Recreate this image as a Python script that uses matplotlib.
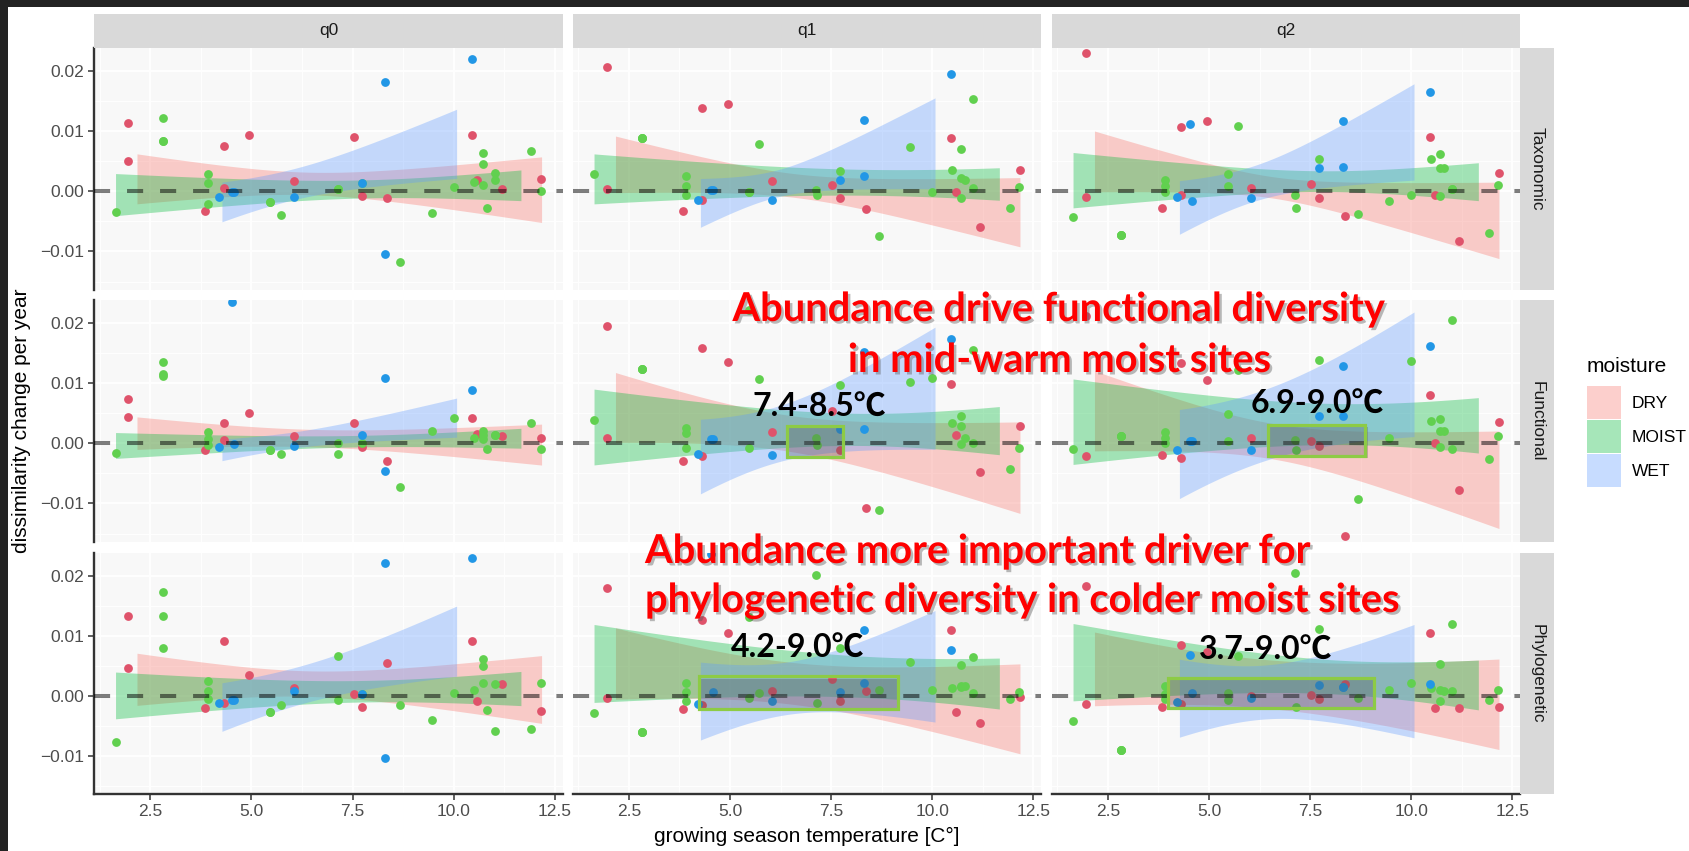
import numpy as np
import matplotlib
matplotlib.use("Agg")
import matplotlib.pyplot as plt
import matplotlib.patheffects as pe
from matplotlib.patches import Rectangle

plt.rcParams['font.family'] = ['Liberation Sans', 'DejaVu Sans']

# sites: growing season temperature and moisture class (D/M/W)
site_temp = [1.64, 1.96, 1.96, 2.82, 2.82, 2.82, 3.84, 3.92, 3.92, 3.92,
             4.20, 4.32, 4.32, 4.52, 4.58, 4.94, 5.47, 5.47, 5.73, 6.05,
             6.05, 7.13, 7.15, 7.53, 7.72, 7.72, 7.72, 8.31, 8.31, 8.36,
             8.68, 9.45, 10.00, 10.46, 10.46, 10.49, 10.58, 10.72, 10.72, 10.72,
             10.81, 11.02, 11.02, 11.18, 11.92, 12.15, 12.16]
site_moist = "MDDMMMDMMM" "WDDWWDMMMD" "WMMDWDMWWD" "MMMWDMDMMM" "MMMDMMD"

# dissimilarity change per year, one value per site
tax_q0 = [-0.0035, 0.0114, 0.0050, 0.0121, 0.0083, 0.0083, -0.0032, 0.0029, 0.0014, -0.0021,
          -0.0009, 0.0076, 0.0006, -0.0002, -0.0002, 0.0093, -0.0018, -0.0018, -0.0039, 0.0017,
          -0.0009, 0.0004, 0.0004, 0.0090, 0.0014, -0.0008, 0.0013, 0.0182, -0.0104, -0.0012,
          -0.0117, -0.0036, 0.0007, 0.0219, 0.0094, 0.0015, 0.0019, 0.0064, 0.0045, 0.0010,
          -0.0027, 0.0031, 0.0019, 0.0003, 0.0067, 0.0000, 0.0020]
fun_q0 = [-0.0016, 0.0074, 0.0043, 0.0135, 0.0115, 0.0111, -0.0011, 0.0019, 0.0007, -0.0003,
          -0.0006, 0.0033, 0.0006, 0.0234, -0.0002, 0.0050, -0.0011, -0.0011, -0.0017, 0.0012,
          -0.0004, 0.0000, -0.0017, 0.0033, 0.0013, -0.0006, 0.0001, 0.0108, -0.0046, -0.0029,
          -0.0072, 0.0021, 0.0042, 0.0088, 0.0042, 0.0008, 0.0016, 0.0021, 0.0007, 0.0013,
          -0.0010, 0.0013, 0.0013, 0.0012, 0.0033, -0.0010, 0.0009]
phy_q0 = [-0.0078, 0.0133, 0.0047, 0.0173, 0.0133, 0.0079, -0.0021, 0.0024, 0.0008, -0.0006,
          -0.0012, 0.0092, -0.0012, -0.0008, -0.0008, 0.0034, -0.0027, -0.0027, -0.0015, 0.0013,
          0.0007, 0.0066, -0.0007, 0.0003, 0.0003, -0.0019, 0.0002, 0.0222, -0.0104, 0.0055,
          -0.0016, -0.0041, 0.0005, 0.0230, 0.0092, 0.0010, -0.0009, 0.0062, 0.0049, 0.0021,
          -0.0024, 0.0020, -0.0059, 0.0020, -0.0056, 0.0021, -0.0026]
tax_q1 = [0.0028, 0.0207, 0.0003, 0.0089, 0.0089, 0.0089, -0.0032, 0.0025, 0.0009, -0.0006,
          -0.0014, 0.0138, -0.0014, 0.0002, 0.0002, 0.0145, -0.0002, -0.0002, 0.0078, 0.0017,
          -0.0015, 0.0002, -0.0007, 0.0010, 0.0019, -0.0011, 0.0033, 0.0118, 0.0026, -0.0030,
          -0.0074, 0.0074, -0.0002, 0.0194, 0.0088, 0.0035, -0.0001, 0.0070, 0.0022, -0.0011,
          0.0018, 0.0154, 0.0006, -0.0059, -0.0027, 0.0007, 0.0035]
fun_q1 = [0.0039, 0.0195, 0.0008, 0.0124, 0.0124, 0.0124, -0.0029, 0.0025, 0.0017, -0.0008,
          -0.0017, 0.0158, -0.0021, 0.0007, 0.0007, 0.0135, -0.0008, 0.0221, 0.0106, 0.0018,
          -0.0020, 0.0008, -0.0003, 0.0053, 0.0023, -0.0012, 0.0096, 0.0151, 0.0023, -0.0108,
          -0.0111, 0.0102, 0.0108, 0.0173, 0.0098, 0.0034, 0.0014, 0.0046, 0.0028, -0.0002,
          0.0008, 0.0155, 0.0000, -0.0048, -0.0042, -0.0008, 0.0028]
phy_q1 = [-0.0029, 0.0179, -0.0004, -0.0060, -0.0060, -0.0060, -0.0022, 0.0021, 0.0006, -0.0009,
          -0.0014, 0.0126, -0.0015, 0.0237, 0.0006, 0.0104, -0.0004, 0.0132, 0.0004, 0.0007,
          -0.0009, 0.0201, -0.0013, 0.0028, 0.0006, -0.0009, 0.0079, 0.0110, 0.0021, 0.0008,
          0.0009, 0.0057, 0.0009, 0.0077, 0.0109, 0.0013, -0.0027, 0.0052, 0.0016, 0.0014,
          0.0016, 0.0065, 0.0004, -0.0046, -0.0006, 0.0006, -0.0002]
tax_q2 = [-0.0043, 0.0229, -0.0010, -0.0073, -0.0073, -0.0073, -0.0028, 0.0018, 0.0008, -0.0002,
          -0.0010, 0.0106, -0.0006, 0.0112, -0.0016, 0.0116, 0.0029, 0.0008, 0.0109, 0.0006,
          -0.0012, -0.0007, -0.0027, 0.0012, 0.0039, -0.0012, 0.0053, 0.0116, 0.0041, -0.0041,
          -0.0038, -0.0016, -0.0006, 0.0165, 0.0090, 0.0053, -0.0007, 0.0062, 0.0038, -0.0008,
          0.0038, 0.0004, 0.0004, -0.0083, -0.0069, 0.0010, 0.0030]
fun_q2 = [-0.0009, 0.0212, -0.0021, 0.0012, 0.0012, 0.0012, -0.0020, 0.0018, 0.0009, 0.0001,
          -0.0012, 0.0133, -0.0025, 0.0003, 0.0003, 0.0105, 0.0049, 0.0003, 0.0122, 0.0008,
          -0.0012, 0.0006, -0.0011, 0.0003, 0.0045, -0.0005, 0.0138, 0.0129, 0.0045, -0.0154,
          -0.0092, 0.0008, 0.0136, 0.0161, 0.0080, 0.0037, 0.0000, 0.0040, 0.0020, -0.0007,
          0.0020, 0.0204, -0.0009, -0.0078, -0.0026, 0.0012, 0.0036]
phy_q2 = [-0.0043, 0.0183, -0.0014, -0.0090, -0.0090, -0.0090, -0.0019, 0.0016, 0.0002, -0.0005,
          -0.0011, 0.0084, -0.0014, 0.0068, 0.0004, 0.0073, 0.0004, -0.0008, 0.0067, -0.0001,
          -0.0004, 0.0204, -0.0019, 0.0001, 0.0017, -0.0005, 0.0112, 0.0014, 0.0014, 0.0019,
          -0.0004, 0.0010, 0.0021, 0.0019, 0.0104, 0.0012, -0.0020, 0.0053, -0.0009, 0.0009,
          0.0007, 0.0119, 0.0007, -0.0020, -0.0007, 0.0010, -0.0019]

# confidence bands: x extent per moisture class, then
# [lo, hi] at start, middle and end for DRY, MOIST, WET
band_x = {"DRY": (2.17, 12.17), "MOIST": (1.64, 11.66), "WET": (4.27, 10.07)}
tax_q0_bands = [[-0.0022, 0.0061, -0.0006, 0.0034, -0.0053, 0.0056],
                [-0.0041, 0.0029, -0.0013, 0.0019, -0.0016, 0.0035],
                [-0.0052, 0.0014, 0.0003, 0.0063, 0.0020, 0.0135]]
fun_q0_bands = [[-0.0011, 0.0043, -0.0006, 0.0024, -0.0037, 0.0031],
                [-0.0025, 0.0018, -0.0008, 0.0012, -0.0008, 0.0025],
                [-0.0029, 0.0007, 0.0000, 0.0032, 0.0010, 0.0075]]
phy_q0_bands = [[-0.0017, 0.0070, -0.0002, 0.0043, -0.0047, 0.0066],
                [-0.0039, 0.0039, -0.0012, 0.0026, -0.0017, 0.0040],
                [-0.0060, 0.0021, 0.0003, 0.0071, 0.0032, 0.0149]]
tax_q1_bands = [[-0.0003, 0.0091, -0.0014, 0.0027, -0.0093, 0.0022],
                [-0.0020, 0.0063, -0.0009, 0.0038, -0.0014, 0.0040],
                [-0.0059, 0.0022, -0.0001, 0.0058, 0.0005, 0.0156]]
fun_q1_bands = [[0.0000, 0.0116, -0.0019, 0.0044, -0.0118, 0.0034],
                [-0.0033, 0.0093, -0.0012, 0.0048, -0.0016, 0.0064],
                [-0.0082, 0.0042, -0.0022, 0.0083, -0.0008, 0.0195]]
phy_q1_bands = [[-0.0007, 0.0112, -0.0018, 0.0054, -0.0098, 0.0052],
                [-0.0011, 0.0119, -0.0001, 0.0074, -0.0022, 0.0063],
                [-0.0073, 0.0057, -0.0029, 0.0065, -0.0043, 0.0143]]
tax_q2_bands = [[-0.0003, 0.0098, -0.0014, 0.0024, -0.0114, 0.0013],
                [-0.0027, 0.0065, -0.0003, 0.0035, -0.0015, 0.0048],
                [-0.0070, 0.0019, -0.0003, 0.0069, 0.0020, 0.0180]]
fun_q2_bands = [[-0.0013, 0.0120, -0.0033, 0.0028, -0.0142, 0.0020],
                [-0.0035, 0.0107, -0.0005, 0.0070, -0.0016, 0.0076],
                [-0.0091, 0.0057, -0.0016, 0.0109, 0.0012, 0.0219]]
phy_q2_bands = [[-0.0017, 0.0106, -0.0026, 0.0057, -0.0090, 0.0061],
                [-0.0007, 0.0122, 0.0002, 0.0065, -0.0022, 0.0061],
                [-0.0070, 0.0060, -0.0037, 0.0060, -0.0071, 0.0118]]

# highlighted temperature windows (x0, x1, y0, y1) and their labels
highlight_boxes = {("Functional", "q1"): (6.41, 7.80, -0.0022, 0.0029),
                   ("Functional", "q2"): (6.47, 8.87, -0.0021, 0.0030),
                   ("Phylogenetic", "q1"): (4.24, 9.15, -0.0022, 0.0032),
                   ("Phylogenetic", "q2"): (3.98, 9.07, -0.0021, 0.0029)}
range_labels = ["7.4-8.5℃", "6.9-9.0℃", "4.2-9.0℃", "3.7-9.0℃"]

metrics = ["Taxonomic", "Functional", "Phylogenetic"]
orders = ["q0", "q1", "q2"]
levels = ["DRY", "MOIST", "WET"]
code_level = {"D": "DRY", "M": "MOIST", "W": "WET"}

values = {("Taxonomic", "q0"): tax_q0, ("Taxonomic", "q1"): tax_q1, ("Taxonomic", "q2"): tax_q2,
          ("Functional", "q0"): fun_q0, ("Functional", "q1"): fun_q1, ("Functional", "q2"): fun_q2,
          ("Phylogenetic", "q0"): phy_q0, ("Phylogenetic", "q1"): phy_q1, ("Phylogenetic", "q2"): phy_q2}
bands = {("Taxonomic", "q0"): tax_q0_bands, ("Taxonomic", "q1"): tax_q1_bands,
         ("Taxonomic", "q2"): tax_q2_bands, ("Functional", "q0"): fun_q0_bands,
         ("Functional", "q1"): fun_q1_bands, ("Functional", "q2"): fun_q2_bands,
         ("Phylogenetic", "q0"): phy_q0_bands, ("Phylogenetic", "q1"): phy_q1_bands,
         ("Phylogenetic", "q2"): phy_q2_bands}

point_colors = {"DRY": "#DF536B", "MOIST": "#61D04F", "WET": "#2297E6"}
fill_colors = {"DRY": "#F8766D", "MOIST": "#00BA38", "WET": "#619CFF"}

W, H = 1690, 851
fig = plt.figure(figsize=(W / 100, H / 100), dpi=100)

col_x = [(94.5, 562.6), (573, 1041), (1052, 1520)]
row_y = [(48, 290), (300, 542), (553, 794)]


def fig_rect(x0, y0, x1, y1):
    return [x0 / W, 1 - y1 / H, (x1 - x0) / W, (y1 - y0) / H]


def draw_band(ax, xr, reading, color):
    xs = [xr[0], (xr[0] + xr[1]) / 2, xr[1]]
    lo = np.array(reading[0::2])
    hi = np.array(reading[1::2])
    centre = np.polyfit(xs, (lo + hi) / 2, 1)
    half2 = np.polyfit(xs, ((hi - lo) / 2) ** 2, 2)
    xx = np.linspace(xr[0], xr[1], 100)
    cc = np.polyval(centre, xx)
    hh = np.sqrt(np.clip(np.polyval(half2, xx), 0, None))
    ax.fill_between(xx, cc - hh, cc + hh, color=color, alpha=0.35, lw=0, zorder=1)


temp = np.array(site_temp)
groups = np.array([code_level[c] for c in site_moist])

for r, metric in enumerate(metrics):
    for c, q in enumerate(orders):
        ax = fig.add_axes(fig_rect(col_x[c][0], row_y[r][0], col_x[c][1], row_y[r][1]))
        ax.set_facecolor('#F8F8F8')
        ax.set_xlim(1.12, 12.69)
        ax.set_ylim(-0.0164, 0.0238)
        ax.set_xticks([2.5, 5.0, 7.5, 10.0, 12.5])
        ax.set_xticklabels(["2.5", "5.0", "7.5", "10.0", "12.5"])
        ax.set_xticks([1.25, 3.75, 6.25, 8.75, 11.25], minor=True)
        ax.set_yticks([-0.01, 0.0, 0.01, 0.02])
        ax.set_yticklabels(["\u22120.01", "0.00", "0.01", "0.02"])
        ax.set_yticks([-0.015, -0.005, 0.005, 0.015], minor=True)
        ax.grid(which='major', color='white', lw=1.3)
        ax.grid(which='minor', color='white', lw=0.7)
        ax.set_axisbelow(True)
        for s in ax.spines.values():
            s.set_visible(False)
        ax.tick_params(which='minor', length=0)
        ax.tick_params(which='major', colors='#333333', labelcolor='#4D4D4D',
                       labelsize=12.5, length=4, width=1.1)
        if c == 0:
            ax.spines['left'].set_visible(True)
            ax.spines['left'].set_color('#333333')
            ax.spines['left'].set_linewidth(1.7)
        else:
            ax.tick_params(axis='y', left=False, labelleft=False)
        if r == 2:
            ax.spines['bottom'].set_visible(True)
            ax.spines['bottom'].set_color('#333333')
            ax.spines['bottom'].set_linewidth(1.7)
        else:
            ax.tick_params(axis='x', bottom=False, labelbottom=False)

        vals = np.array(values[(metric, q)])
        for i, lev in enumerate(levels):
            draw_band(ax, band_x[lev], bands[(metric, q)][i], fill_colors[lev])
        for lev in levels:
            m = groups == lev
            ax.scatter(temp[m], vals[m], s=40, color=point_colors[lev], lw=0, zorder=2)
        ax.axhline(0, color='black', alpha=0.5, lw=2.9, ls=(0, (4, 4.2)), zorder=3)

        if (metric, q) in highlight_boxes:
            x0, x1, y0, y1 = highlight_boxes[(metric, q)]
            ax.add_patch(Rectangle((x0, y0), x1 - x0, y1 - y0, fill=False,
                                   edgecolor='#8DCB45', lw=2.3, zorder=4,
                                   path_effects=[pe.withSimplePatchShadow(offset=(1.5, -1.5), alpha=0.3)]))

# facet strips
for c, q in enumerate(orders):
    sax = fig.add_axes(fig_rect(col_x[c][0], 14, col_x[c][1], 48))
    sax.set_facecolor('#D9D9D9')
    sax.set_xticks([]); sax.set_yticks([])
    for s in sax.spines.values():
        s.set_visible(False)
    sax.text(0.5, 0.5, q, ha='center', va='center', fontsize=12.5, color='#1A1A1A',
             transform=sax.transAxes)
for r, metric in enumerate(metrics):
    sax = fig.add_axes(fig_rect(1520, row_y[r][0], 1554, row_y[r][1]))
    sax.set_facecolor('#D9D9D9')
    sax.set_xticks([]); sax.set_yticks([])
    for s in sax.spines.values():
        s.set_visible(False)
    sax.text(0.5, 0.5, metric, ha='center', va='center', fontsize=12.5, color='#1A1A1A',
             rotation=-90, transform=sax.transAxes)

# axis titles
fig.text(807 / W, 1 - 836 / H, 'growing season temperature [C°]', ha='center', va='center',
         fontsize=15)
fig.text(22 / W, 1 - 421 / H, 'dissimilarity change per year', ha='center', va='center',
         rotation=90, fontsize=15)

# legend
fig.text(1587 / W, 1 - 366 / H, 'moisture', ha='left', va='center', fontsize=15)
key_top = [386, 420, 454]
for lev, ky in zip(levels, key_top):
    fig.patches.append(Rectangle((1587 / W, 1 - (ky + 33) / H), 34 / W, 33 / H,
                                 transform=fig.transFigure, facecolor=fill_colors[lev],
                                 alpha=0.35, lw=0))
    fig.text(1632 / W, 1 - (ky + 17) / H, lev, ha='left', va='center', fontsize=12.5)

# dark screenshot frame
fig.patches.append(Rectangle((0, 0), 8 / W, 1, transform=fig.transFigure,
                             color='#232323', lw=0))
fig.patches.append(Rectangle((0, 1 - 7 / H), 1, 7 / H, transform=fig.transFigure,
                             color='#232323', lw=0))

# annotations
shadow = [pe.withSimplePatchShadow(offset=(1.8, -1.8), shadow_rgbFace='#555555', alpha=0.4)]
red_font = dict(color='#FF0000', fontsize=28.7, fontweight='bold', family=['Lato', 'DejaVu Sans'],
                path_effects=shadow)
fig.text(1058 / W, 1 - 321 / H, 'Abundance drive functional diversity', ha='center',
         va='baseline', **red_font)
fig.text(1059 / W, 1 - 372 / H, 'in mid-warm moist sites', ha='center', va='baseline', **red_font)
fig.text(645 / W, 1 - 563 / H, 'Abundance more important driver for', ha='left',
         va='baseline', **red_font)
fig.text(645 / W, 1 - 612 / H, 'phylogenetic diversity in colder moist sites', ha='left',
         va='baseline', **red_font)

label_pos = [(819, 417), (1317, 414), (798, 658), (1266, 660)]
for lab, (lx, ly) in zip(range_labels, label_pos):
    fig.text(lx / W, 1 - ly / H, lab, ha='center', va='baseline', fontsize=23,
             fontweight='bold', color='black', family=['Lato', 'Noto Sans CJK SC'])

fig.savefig('out.png', dpi=100)
